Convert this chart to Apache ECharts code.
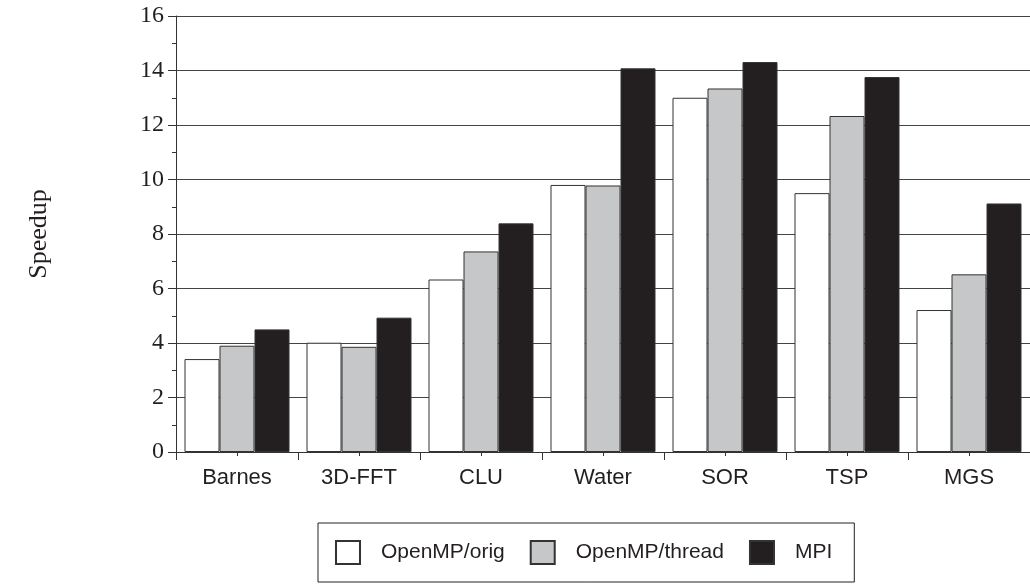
<!DOCTYPE html>
<html>
<head>
<meta charset="utf-8">
<script src="https://cdn.jsdelivr.net/npm/echarts@6/dist/echarts.min.js"></script>
<style>
  html, body { margin: 0; padding: 0; background: #fff; }
  #chart { width: 1030px; height: 584px; }
</style>
</head>
<body>
<div id="chart"></div>
<script>
// 数据
const categories = ['Barnes', '3D-FFT', 'CLU', 'Water', 'SOR', 'TSP', 'MGS']
const ompOrig = [3.41, 4.01, 6.33, 9.8, 13.0, 9.5, 5.21]
const ompThread = [3.9, 3.86, 7.36, 9.78, 13.34, 12.33, 6.52]
const mpi = [4.5, 4.93, 8.39, 14.08, 14.31, 13.76, 9.12]

const ink = '#231f20'
const sans = 'Liberation Sans, Arial, sans-serif'
const serif = 'Liberation Serif, Times New Roman, serif'

const myChart = echarts.init(document.querySelector('#chart'))

function barSeries(name, data, color) {
  return {
    name: name,
    type: 'bar',
    data: data,
    barWidth: 35,
    barGap: 0,
    itemStyle: {
      color: color,
      borderColor: '#333',
      borderWidth: 1
    }
  }
}

const option = {
  animation: false,
  grid: {
    left: 176,
    right: 0,
    top: 16,
    bottom: 132
  },
  xAxis: [
    {
      type: 'category',
      data: categories,
      axisLine: { lineStyle: { color: '#333', width: 1 } },
      // 分组边界的刻度
      axisTick: { show: true, interval: 0, length: 8, lineStyle: { color: '#333' } },
      axisLabel: {
        interval: 0,
        margin: 15,
        color: ink,
        fontFamily: sans,
        fontSize: 22
      }
    },
    {
      // 分组中间的小刻度
      type: 'category',
      data: categories,
      position: 'bottom',
      axisLine: { show: false },
      axisTick: { show: true, interval: 0, alignWithLabel: true, length: 4, lineStyle: { color: '#333' } },
      axisLabel: { show: false }
    }
  ],
  yAxis: {
    type: 'value',
    min: 0,
    max: 16,
    interval: 2,
    name: 'Speedup',
    nameLocation: 'middle',
    nameGap: 124,
    nameRotate: 90,
    nameTextStyle: {
      color: ink,
      fontFamily: serif,
      fontSize: 26
    },
    axisLine: { show: true, lineStyle: { color: '#333', width: 1 } },
    axisTick: { show: true, length: 8, lineStyle: { color: '#333' } },
    minorTick: { show: true, splitNumber: 2, length: 4, lineStyle: { color: '#333' } },
    axisLabel: {
      margin: 12,
      color: ink,
      fontFamily: serif,
      fontSize: 24
    },
    splitLine: { lineStyle: { color: '#444', width: 1 } }
  },
  legend: {
    left: 318,
    top: 523,
    orient: 'horizontal',
    itemWidth: 24,
    itemHeight: 23,
    itemGap: 25,
    padding: [17, 22, 17, 17],
    borderColor: '#222',
    borderWidth: 1,
    icon: 'rect',
    textStyle: {
      color: ink,
      fontFamily: sans,
      fontSize: 21,
      padding: [0, 0, 0, 16]
    },
    data: ['OpenMP/orig', 'OpenMP/thread', 'MPI']
  },
  series: [
    barSeries('OpenMP/orig', ompOrig, '#ffffff'),
    barSeries('OpenMP/thread', ompThread, '#c6c7c9'),
    barSeries('MPI', mpi, ink)
  ]
}

myChart.setOption(option)
</script>
</body>
</html>
